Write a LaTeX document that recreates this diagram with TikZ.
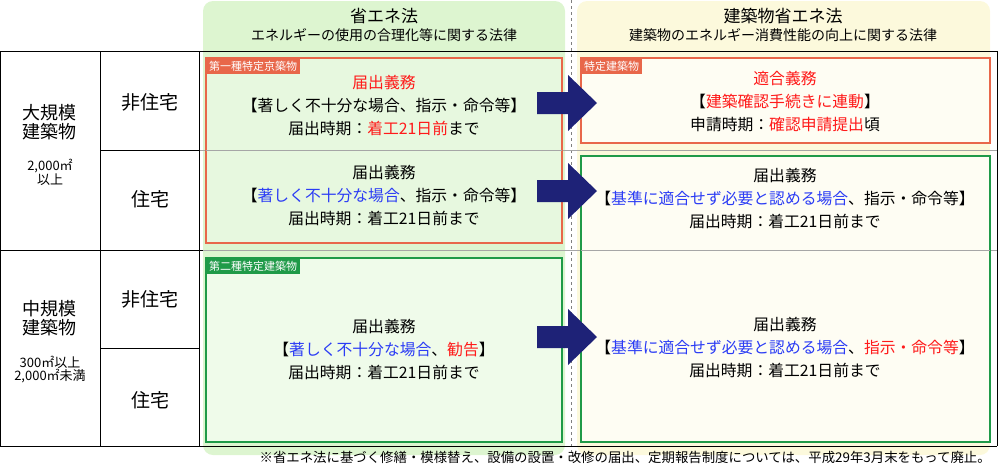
\documentclass[tikz,border=0pt]{standalone}
\usepackage{fontspec}
\setmainfont{Noto Sans CJK JP}
\definecolor{gbg}{HTML}{DDF5D0}
\definecolor{gin}{HTML}{EFFBEA}
\definecolor{ybg}{HTML}{FCF9DC}
\definecolor{yin}{HTML}{FEFDF3}
\definecolor{org}{HTML}{E8674A}
\definecolor{grn}{HTML}{1F9A48}
\definecolor{navy}{HTML}{1E2277}
\definecolor{rd}{HTML}{FF1A1A}
\definecolor{bl}{HTML}{2B3CF5}
\newcommand{\R}[1]{\textcolor{rd}{#1}}
\newcommand{\B}[1]{\textcolor{bl}{#1}}
\tikzset{
 txt/.style={font=\fontsize{15.8}{23}\selectfont,align=center,inner sep=0},
 big/.style={font=\fontsize{18}{19}\selectfont,align=center,inner sep=0},
 sm/.style={font=\fontsize{13}{13}\selectfont,align=center,inner sep=0},
 sub/.style={font=\fontsize{19}{20}\selectfont,align=center,inner sep=0},
 tag/.style={font=\fontsize{11}{12}\selectfont,text=white,anchor=north west,inner xsep=3pt,inner ysep=3pt},
 arr/.style={fill=navy},
}
\begin{document}
\begin{tikzpicture}[x=1pt,y=-1pt]
\useasboundingbox (0,0) rectangle (999,467);
% header backgrounds
\fill[gbg,rounded corners=10] (203,1) rectangle (565,455);
\fill[ybg,rounded corners=10] (577,1) rectangle (990,455);
\draw[dashed,gray] (571,0) -- (571,455);
\node[txt,font=\fontsize{17}{18}\selectfont] (h1) at (384,16) {省エネ法};
\node[sm,font=\fontsize{14}{15}\selectfont] (h1s) at (384,35) {エネルギーの使用の合理化等に関する法律};
\node[txt,font=\fontsize{17}{18}\selectfont] (h2) at (783,16) {建築物省エネ法};
\node[sm,font=\fontsize{14}{15}\selectfont] (h2s) at (783,35) {建築物のエネルギー消費性能の向上に関する法律};
% table
\draw[black] (0,51) -- (997,51);
\draw[black] (0,250) -- (203,250);
\draw[gray!70] (203,250) -- (997,250);
\draw[black] (100,150) -- (199,150);
\draw[gray!70] (199,150) -- (997,150);
\draw[black] (100,348) -- (199,348);
\draw[black] (0,446) -- (997,446);
\draw[black] (0,51) -- (0,446);
\draw[black] (100,51) -- (100,446);
\draw[black] (199,51) -- (199,446);
\draw[black] (997,51) -- (997,446);
% left labels
\node[big] (l1) at (50,122) {大規模\\建築物};
\node[sm] (l1s) at (50,172) {2,000㎡\\以上};
\node[big] (l2) at (50,318) {中規模\\建築物};
\node[sm] (l2s) at (50,370) {300㎡以上\\2,000㎡未満};
\node[sub] (s1) at (150,102) {非住宅};
\node[sub] (s2) at (150,199) {住宅};
\node[sub] (s3) at (150,299) {非住宅};
\node[sub] (s4) at (150,400) {住宅};
% boxes
\draw[org,line width=2.2,fill=gin,fill opacity=0.6,draw opacity=1] (206,58) rectangle (562,243);
\draw[org,line width=2.2,fill=yin] (581,58) rectangle (990,143);
\draw[grn,line width=2.2,fill=yin] (581,156) rectangle (990,442);
\draw[grn,line width=2.2,fill=gin] (206,258) rectangle (562,442);
\draw[gray!70] (206,150) -- (562,150);
\draw[gray!70] (581,250) -- (990,250);
\node[tag,fill=org] (t1) at (206,58) {第一種特定京築物};
\node[tag,fill=org] (t2) at (581,58) {特定建築物};
\node[tag,fill=grn] (t3) at (206,258) {第二種特定建築物};
% texts
\node[txt] (c1) at (384,106) {\R{届出義務}\\【著しく不十分な場合、指示・命令等】\\届出時期：\R{着工21日前}まで};
\node[txt] (c2) at (384,196) {届出義務\\【\B{著しく不十分な場合}、指示・命令等】\\届出時期：着工21日前まで};
\node[txt] (c3) at (384,350) {届出義務\\【\B{著しく不十分な場合}、\R{勧告}】\\届出時期：着工21日前まで};
\node[txt] (d1) at (785,102) {\R{適合義務}\\【\R{建築確認手続きに連動}】\\申請時期：\R{確認申請提出}頃};
\node[txt] (d2) at (785,199) {届出義務\\【\B{基準に適合せず必要と認める場合}、指示・命令等】\\届出時期：着工21日前まで};
\node[txt] (d3) at (785,348) {届出義務\\【\B{基準に適合せず必要と認める場合}、\R{指示・命令等}】\\届出時期：着工21日前まで};
% arrows
\foreach \y/\n in {103/a1,191/a2,337/a3}{
 \fill[arr] (537,\y-11) -- (568,\y-11) -- (568,\y-28) -- (597,\y) -- (568,\y+28) -- (568,\y+11) -- (537,\y+11) -- cycle;
}
\node[sm,anchor=east,font=\fontsize{13.4}{14}\selectfont] (foot) at (991,457) {※省エネ法に基づく修繕・模様替え、設備の設置・改修の届出、定期報告制度については、平成29年3月末をもって廃止。};
\end{tikzpicture}
\end{document}
